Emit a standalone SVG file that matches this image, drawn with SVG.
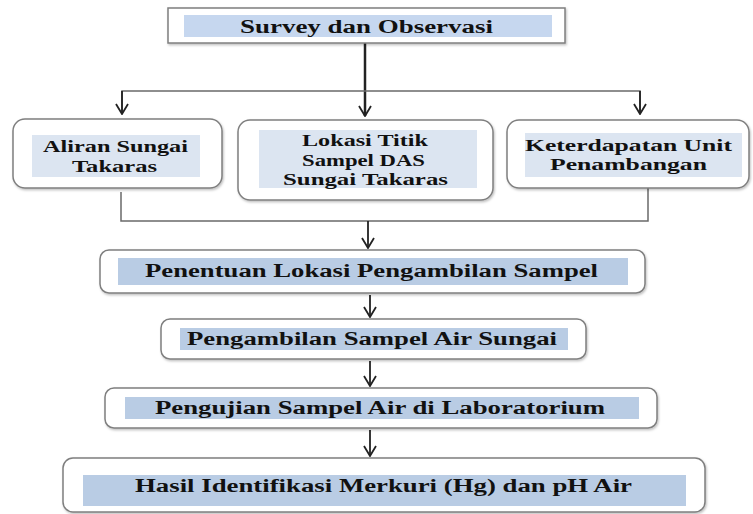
<svg xmlns="http://www.w3.org/2000/svg" width="753" height="514" viewBox="0 0 753 514">
<style>
.box{fill:#fff;stroke:#7f7f7f;stroke-width:1.5;filter:url(#sh)}
.b1{fill:#c6d7ef}
.b2{fill:#dce5f1}
.b3{fill:#b9cce4}
.ln{fill:none;stroke:#6a6a6a;stroke-width:1.5}
.ar{fill:none;stroke:#222;stroke-width:1.8;marker-end:url(#v)}
</style>
<defs>
<filter id="sh" x="-5%" y="-10%" width="110%" height="130%">
<feDropShadow dx="1" dy="1.5" stdDeviation="1" flood-color="#000" flood-opacity="0.25"/>
</filter>
<marker id="v" viewBox="0 0 12 14" refX="11" refY="7" markerWidth="12" markerHeight="14" markerUnits="userSpaceOnUse" orient="auto">
<path d="M1,1 L11,7 L1,13" fill="none" stroke="#222" stroke-width="1.8"/>
</marker>
</defs>

<g id="connectors">
<line class="ar" x1="365" y1="43" x2="365" y2="116" style="stroke-width:2.5"/>
<polyline class="ln" points="122,114 122,91 640,91 640,114"/>
<line class="ar" x1="122" y1="91" x2="122" y2="114"/>
<line class="ar" x1="640" y1="91" x2="640" y2="114"/>
<polyline class="ln" points="121,192 121,221 648,221 648,187"/>
<line class="ar" x1="368" y1="221" x2="368" y2="248"/>
<line class="ar" x1="370" y1="295" x2="370" y2="317"/>
<line class="ar" x1="370" y1="361" x2="370" y2="386"/>
<line class="ar" x1="370" y1="430" x2="370" y2="456"/>
</g>

<g font-family="Liberation Serif, serif" font-weight="bold" font-size="18" fill="#111">
<g id="survey">
<rect class="box" x="168" y="8" width="397" height="35"/>
<rect class="b1" x="184" y="15" width="368" height="22"/>
<text x="240" y="33" textLength="253" lengthAdjust="spacingAndGlyphs">Survey dan Observasi</text>
</g>

<g id="aliran" font-size="17">
<rect class="box" x="13" y="119" width="209" height="69" rx="12"/>
<rect class="b2" x="32" y="135" width="168" height="42"/>
<text x="43" y="152" textLength="145" lengthAdjust="spacingAndGlyphs">Aliran Sungai</text>
<text x="72" y="172" textLength="85" lengthAdjust="spacingAndGlyphs">Takaras</text>
</g>

<g id="lokasi" font-size="17">
<rect class="box" x="238" y="120" width="255" height="80" rx="12"/>
<rect class="b2" x="259" y="130" width="218" height="58"/>
<text x="302" y="146" textLength="126" lengthAdjust="spacingAndGlyphs">Lokasi Titik</text>
<text x="302" y="166" textLength="123" lengthAdjust="spacingAndGlyphs">Sampel DAS</text>
<text x="283" y="185" textLength="165" lengthAdjust="spacingAndGlyphs">Sungai Takaras</text>
</g>

<g id="keterdapatan" font-size="17">
<rect class="box" x="507" y="120" width="242" height="68" rx="12"/>
<rect class="b2" x="525" y="133" width="217" height="44"/>
<text x="525" y="151" textLength="207" lengthAdjust="spacingAndGlyphs">Keterdapatan Unit</text>
<text x="550" y="170" textLength="157" lengthAdjust="spacingAndGlyphs">Penambangan</text>
</g>

<g id="penentuan">
<rect class="box" x="100" y="250" width="545" height="43" rx="9"/>
<rect class="b3" x="118" y="258" width="510" height="27"/>
<text x="145" y="277" textLength="453" lengthAdjust="spacingAndGlyphs">Penentuan Lokasi Pengambilan Sampel</text>
</g>

<g id="pengambilan">
<rect class="box" x="161" y="319" width="425" height="40" rx="9"/>
<rect class="b3" x="180" y="328" width="388" height="22"/>
<text x="187" y="345" textLength="370" lengthAdjust="spacingAndGlyphs">Pengambilan Sampel Air Sungai</text>
</g>

<g id="pengujian">
<rect class="box" x="105" y="388" width="552" height="40" rx="9"/>
<rect class="b3" x="125" y="397" width="514" height="22"/>
<text x="155" y="414" textLength="450" lengthAdjust="spacingAndGlyphs">Pengujian Sampel Air di Laboratorium</text>
</g>

<g id="hasil">
<rect class="box" x="63" y="458" width="642" height="54" rx="10"/>
<rect class="b3" x="83" y="475" width="603" height="31"/>
<text x="135" y="492" textLength="497" lengthAdjust="spacingAndGlyphs">Hasil Identifikasi Merkuri (Hg) dan pH Air</text>
</g>
</g>
</svg>
